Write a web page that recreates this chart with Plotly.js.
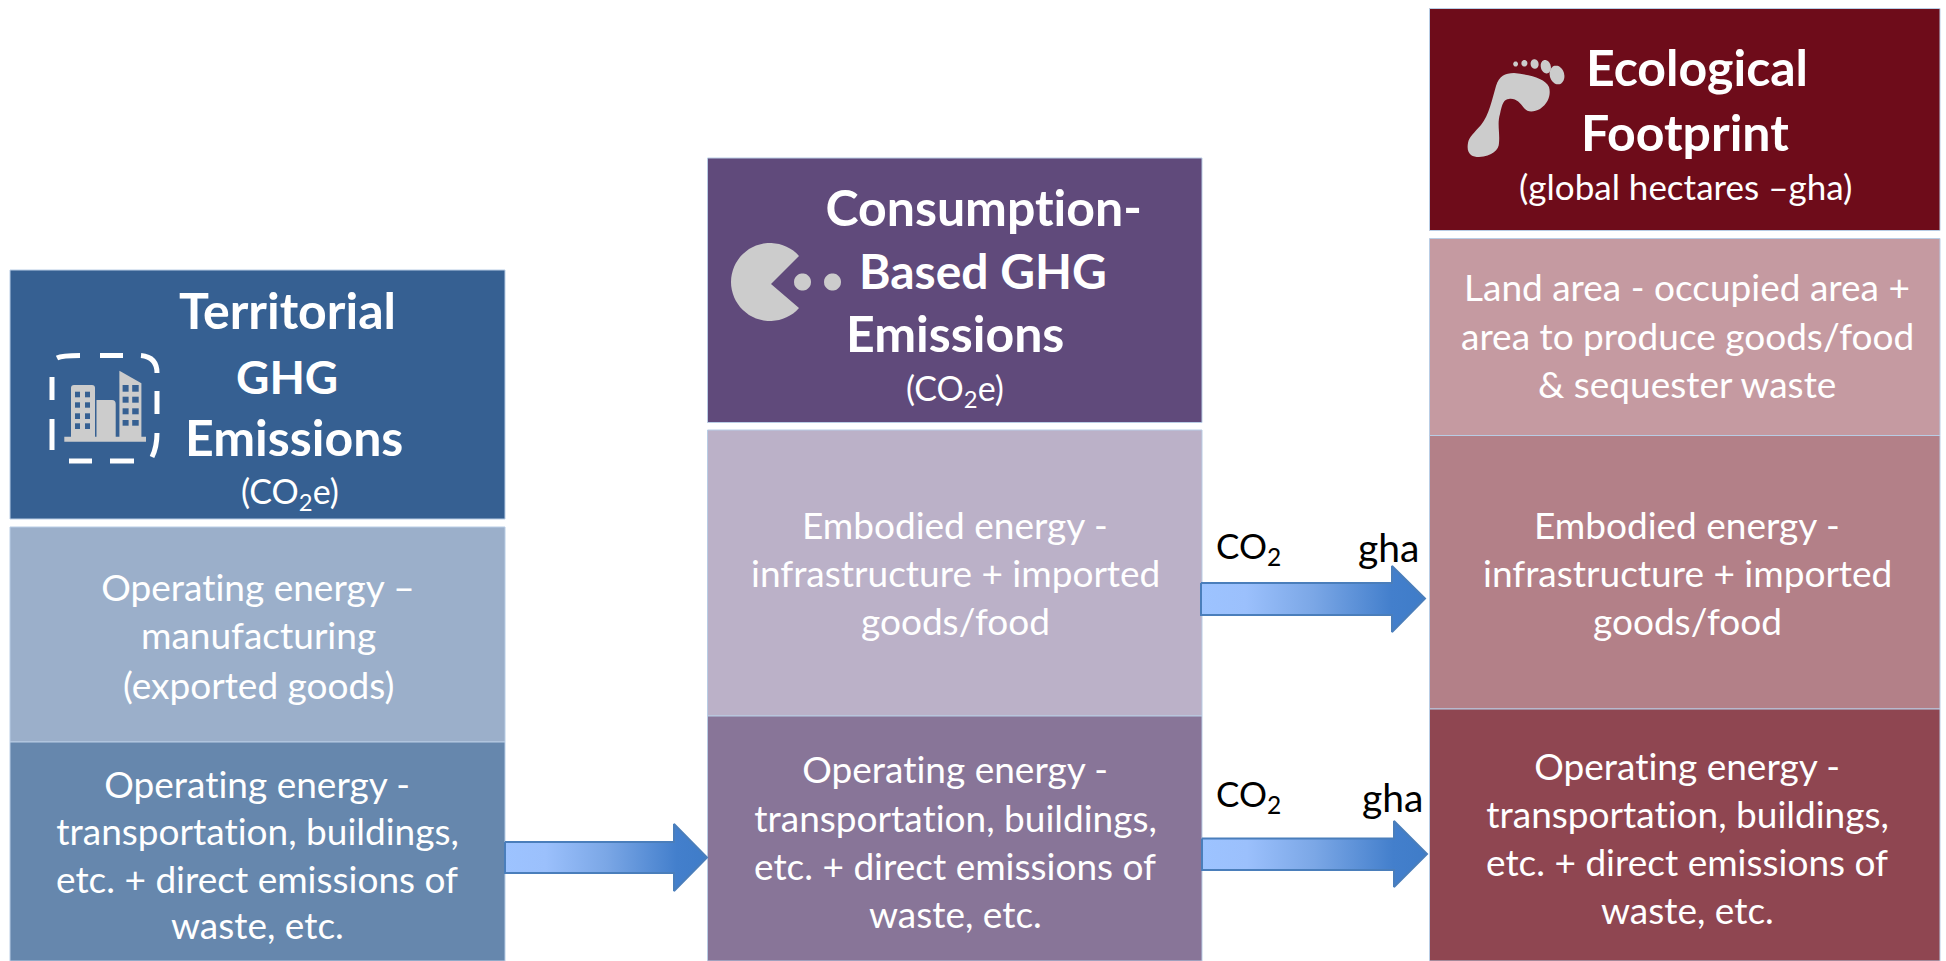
<!DOCTYPE html>
<html>
<head>
<meta charset="utf-8">
<script src="https://cdn.plot.ly/plotly-3.0.1.min.js"></script>
<style>html,body{margin:0;padding:0;background:#fff}#chart{width:1946px;height:961px}
#chart text{font-variant-ligatures:none;font-feature-settings:"liga" 0}</style>
</head>
<body>
<div id="chart"></div>
<script>
// Boxes
const boxLeft   = [10,10,10, 707.5,707.5,707.5, 1429.5,1429.5,1429.5,1429.5];
const boxRight  = [505,505,505, 1202,1202,1202, 1940,1940,1940,1940];
const boxTop    = [270,527,742, 158,430,716, 8.5,238.5,435.5,709];
const boxBottom = [519,742,961, 422.5,716,961, 230.5,435.5,709,961];
const boxColor  = ['#366092','#9BAFCA','#6687AD','#604A7B','#BBB1C8','#887598','#6E0C1A','#C59AA1','#B38088','#8F4651'];

// Text lines
const bodyText = ['Operating energy –','manufacturing','(exported goods)',
  'Operating energy -','transportation, buildings,','etc. + direct emissions of','waste, etc.',
  'Embodied energy -','infrastructure + imported','goods/food',
  'Operating energy -','transportation, buildings,','etc. + direct emissions of','waste, etc.',
  'Land area - occupied area +','area to produce goods/food','& sequester waste',
  'Embodied energy -','infrastructure + imported','goods/food',
  'Operating energy -','transportation, buildings,','etc. + direct emissions of','waste, etc.'];
const bodyX = [258,258,258, 257,257,257,257, 955,955,955, 955,955,955,955, 1687,1687,1687, 1687,1687,1687, 1687,1687,1687,1687];
const bodyY = [586,634,684, 783,830,878,924, 524,572,620, 768,817,865,913, 286,335,383, 524,572,620, 765,813,861,909];

const headText = ['Territorial','GHG','Emissions','Consumption-','Based GHG','Emissions','Ecological','Footprint'];
const headX = [287,287,294, 983,983,955, 1697,1685];
const headY = [310,376,437, 207,270,333, 67,132];
const headSize = [50,46,50,50,48,50,50,50];

const unitText = ['(CO<sub>2</sub>e)','(CO<sub>2</sub>e)','(global hectares –gha)'];
const unitX = [290,955,1685];
const unitY = [493,390,186];
const unitSize = [34,34,35];

const convText = ['CO<sub>2</sub>','gha','CO<sub>2</sub>','gha'];
const convX = [1248,1388,1248,1392];
const convY = [547,547,795,797];
const convSize = [35,39,35,39];

// Arrows
const arrowStart = [505,1201,1202];
const arrowTip   = [707,1425,1427];
const arrowNeck  = [674,1392,1394];
const shaftTop   = [842,583,838.5];
const shaftBot   = [873,615,870];
const headTop    = [824,566,821];
const headBot    = [891,632,887];
const tipY       = [857.5,598.5,854];

const traces = [{
  type:'bar',
  x: boxLeft.map((l,i)=>(l+boxRight[i])/2),
  width: boxLeft.map((l,i)=>boxRight[i]-l),
  base: boxTop,
  y: boxBottom.map((b,i)=>b-boxTop[i]),
  marker:{color:boxColor, line:{color:'#B9CDE5', width:1}},
  hoverinfo:'skip', showlegend:false
}];
arrowStart.forEach((s,i)=>{
  traces.push({
    type:'scatter', mode:'lines', hoverinfo:'skip', showlegend:false,
    x:[s,arrowNeck[i],arrowNeck[i],arrowTip[i],arrowNeck[i],arrowNeck[i],s,s],
    y:[shaftTop[i],shaftTop[i],headTop[i],tipY[i],headBot[i],shaftBot[i],shaftBot[i],shaftTop[i]],
    fill:'toself',
    fillgradient:{type:'horizontal', start:s, stop:arrowTip[i],
      colorscale:[[0,'#9DC3FF'],[0.2,'#9BC0FC'],[0.5,'#7BA7E6'],[0.85,'#437FCC'],[1,'#3F7CC8']]},
    line:{color:'#4A7EBB', width:2}
  });
});

const annotations = [];
function addText(t,x,y,size,color,weight){
  annotations.push({text:t, x, y, xref:'x', yref:'y', showarrow:false,
    xanchor:'center', yanchor:'middle', font:{family:'Lato, "Open Sans", sans-serif', size, color, weight}});
}
bodyText.forEach((t,i)=>addText(t,bodyX[i],bodyY[i],37,'#FFFFFF',400));
headText.forEach((t,i)=>addText(t,headX[i],headY[i],headSize[i],'#FFFFFF',700));
unitText.forEach((t,i)=>addText(t,unitX[i],unitY[i],unitSize[i],'#FFFFFF',400));
convText.forEach((t,i)=>addText(t,convX[i],convY[i],convSize[i],'#000000',400));

// Icon helpers
function arcPts(cx,cy,rx,ry,a0,a1,rot){
  const p=[]; const r=(rot||0)*Math.PI/180;
  for(let k=0;k<=48;k++){
    const a=(a0+(a1-a0)*k/48)*Math.PI/180;
    const dx=rx*Math.cos(a), dy=ry*Math.sin(a);
    p.push((cx+dx*Math.cos(r)-dy*Math.sin(r)).toFixed(1)+','+(cy+dx*Math.sin(r)+dy*Math.cos(r)).toFixed(1));
  }
  return p;
}
const grey='#CCCCCC';
const solid=(path,color)=>({type:'path',xref:'x',yref:'y',path,fillcolor:color,line:{width:0}});
const stroke=(path)=>({type:'path',xref:'x',yref:'y',path,fillcolor:'rgba(0,0,0,0)',line:{color:'#FFFFFF',width:5}});
const shapes=[];
// pacman
shapes.push(solid('M771,284 L'+arcPts(770,282,39,39,-42,-318).join(' L')+' Z',grey));
shapes.push(solid('M'+arcPts(802.5,282,8.5,8.5,0,360).join(' L')+' Z',grey));
shapes.push(solid('M'+arcPts(832.5,282,8.5,8.5,0,360).join(' L')+' Z',grey));
// footprint
shapes.push(solid('M1468,143 C1466,154 1472,157 1479,157 C1492,156 1499,150 1499,143 C1500,132 1497,124 1500,114 C1502,104 1504,99 1509,99 C1516,98 1520,103 1524,108 C1528,113 1534,112 1540,109 C1549,103 1551,94 1549,87 C1545,78 1530,75 1514,73 C1505,73 1499,76 1496,86 C1492,100 1489,115 1481,125 C1474,133 1469,137 1468,143 Z',grey));
[[1557,75,7.2,9.5,-15],[1545.8,66.7,5,6.8,-15],[1534.6,64,4,4.8,-10],[1524.4,63.3,3,3.3,0],[1515.6,64,2.4,2.6,0]].forEach(e=>{
  shapes.push(solid('M'+arcPts(e[0],e[1],e[2],e[3],0,360,e[4]).join(' L')+' Z',grey));
});
// building
shapes.push(solid('M71,437 L71,388 Q71,385 74,385 L92,385 Q95,385 95,388 L95,437 Z',grey));
shapes.push(solid('M96.5,437 L96.5,400 L112,400 Q115.7,400 115.7,404 L115.7,437 Z',grey));
shapes.push(solid('M119.4,437 L119.4,370.7 L141.4,383.3 L141.4,437 Z',grey));
shapes.push(solid('M64.3,436.7 L146,436.7 L146,441.7 L64.3,441.7 Z',grey));
[[75,80],[85,90]].forEach(c=>[[391.7,397.3],[402.3,407.7],[413.3,419],[423.3,429]].forEach(r=>{
  shapes.push(solid(`M${c[0]},${r[0]} L${c[1]},${r[0]} L${c[1]},${r[1]} L${c[0]},${r[1]} Z`,'#366092'));
}));
[[122.6,128.6],[132.2,138.7]].forEach(c=>[[385,391.7],[396.7,402.7],[408.3,414.3],[420,425.7]].forEach(r=>{
  shapes.push(solid(`M${c[0]},${r[0]} L${c[1]},${r[0]} L${c[1]},${r[1]} L${c[0]},${r[1]} Z`,'#366092'));
}));
// dashed frame
['M57,358 Q62,355.5 80,355.5','M100,355.5 L123,355.5','M141,355.5 Q157,357 157,373','M157,391 L157,414',
 'M157,433 Q157,447 152,457','M134,461 L110,461','M92,461 L69,461','M52,450 L52,419','M52,400 L52,377'
].forEach(p=>shapes.push(stroke(p)));

const layout = {
  width:1946, height:961, margin:{l:0,r:0,t:0,b:0},
  paper_bgcolor:'#FFFFFF', plot_bgcolor:'#FFFFFF',
  xaxis:{range:[0,1946], visible:false, fixedrange:true},
  yaxis:{range:[961,0], visible:false, fixedrange:true},
  barmode:'overlay', showlegend:false, annotations, shapes
};
Plotly.newPlot('chart', traces, layout, {displayModeBar:false, staticPlot:true});
</script>
</body>
</html>
